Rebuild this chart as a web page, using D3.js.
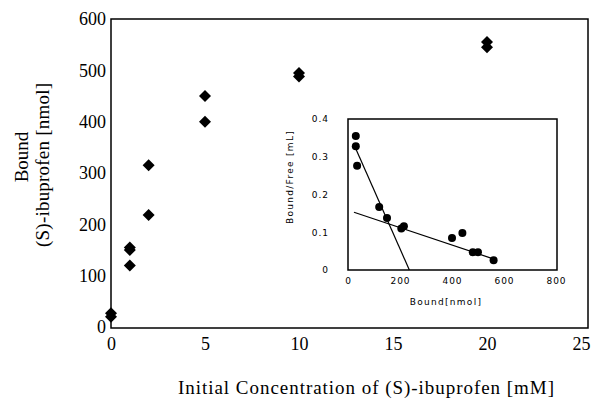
<!DOCTYPE html>
<html>
<head>
<meta charset="utf-8">
<script src="https://cdn.jsdelivr.net/npm/d3@7"></script>
<style>
  body { margin: 0; background: #fff; }
  svg { display: block; }
</style>
</head>
<body>
<div id="chart"></div>
<script>
// main plot: bound ibuprofen vs initial concentration
const concentration = [0, 0, 1, 1, 1, 2, 2, 5, 5, 10, 10, 20, 20];
const bound = [20, 27, 120, 150, 155, 218, 315, 400, 450, 488, 495, 545, 555];
const xTicks = [0, 5, 10, 15, 20, 25];
const yTicks = [0, 100, 200, 300, 400, 500, 600];

// inset: Scatchard plot
const scatBound = [30, 30, 35, 120, 150, 205, 215, 400, 440, 480, 500, 560];
const scatRatio = [0.355, 0.328, 0.276, 0.167, 0.138, 0.11, 0.116, 0.085, 0.098, 0.047, 0.047, 0.026];
const steepLine = [[27, 0.326], [236, 0]];
const shallowLine = [[23, 0.153], [570, 0.027]];
const insetXTicks = [0, 200, 400, 600, 800];
const insetYTicks = [0, 0.1, 0.2, 0.3, 0.4];

const W = 599, H = 400;
const svg = d3.select("#chart").append("svg")
    .attr("width", W)
    .attr("height", H);

const x = d3.scaleLinear().domain([0, 25]).range([111, 581]);
const y = d3.scaleLinear().domain([0, 600]).range([327, 19]);

const serif = "'Liberation Serif', 'DejaVu Serif', serif";
const sans = "'DejaVu Sans', 'Liberation Sans', sans-serif";

// frame
svg.append("rect")
    .attr("x", 111).attr("y", 19)
    .attr("width", 477).attr("height", 309)
    .attr("fill", "none")
    .attr("stroke", "#000")
    .attr("stroke-width", 1.5);

const yAxis = svg.append("g")
    .attr("transform", "translate(111,0)")
    .call(d3.axisLeft(y).tickValues(yTicks).tickSize(0).tickPadding(5));
yAxis.select(".domain").remove();
yAxis.selectAll("text")
    .attr("font-family", serif)
    .attr("font-size", 18)
    .attr("fill", "#000");

const xAxis = svg.append("g")
    .attr("transform", "translate(0,328)")
    .call(d3.axisBottom(x).tickValues(xTicks).tickSize(0).tickPadding(9));
xAxis.select(".domain").remove();
xAxis.selectAll("text")
    .attr("font-family", serif)
    .attr("font-size", 18)
    .attr("fill", "#000");

// axis titles
svg.append("text")
    .attr("transform", "translate(28,157) rotate(-90)")
    .attr("text-anchor", "middle")
    .attr("font-family", serif)
    .attr("font-size", 19)
    .text("Bound");
svg.append("text")
    .attr("transform", "translate(49,165) rotate(-90)")
    .attr("text-anchor", "middle")
    .attr("font-family", serif)
    .attr("font-size", 19)
    .attr("textLength", 164)
    .text("(S)-ibuprofen [nmol]");
svg.append("text")
    .attr("x", 366).attr("y", 394)
    .attr("text-anchor", "middle")
    .attr("font-family", serif)
    .attr("font-size", 19)
    .attr("textLength", 376)
    .text("Initial Concentration of (S)-ibuprofen [mM]");

// main markers (diamonds)
const diamond = d3.symbol().type(d3.symbolSquare).size(72);
svg.append("g").selectAll("path")
    .data(concentration)
    .join("path")
    .attr("d", diamond)
    .attr("transform", (d, i) => `translate(${x(d)},${y(bound[i])}) rotate(45)`)
    .attr("fill", "#000");

// inset
const ix = d3.scaleLinear().domain([0, 800]).range([348, 556]);
const iy = d3.scaleLinear().domain([0, 0.4]).range([270, 119]);

svg.append("rect")
    .attr("x", 348).attr("y", 119)
    .attr("width", 209).attr("height", 151)
    .attr("fill", "#fff")
    .attr("stroke", "#000")
    .attr("stroke-width", 1.5);

const iyAxis = svg.append("g")
    .attr("transform", "translate(348,0)")
    .call(d3.axisLeft(iy).tickValues(insetYTicks).tickSize(0).tickPadding(19)
        .tickFormat(d => d === 0 ? "0" : d3.format(".1f")(d)));
iyAxis.select(".domain").remove();
iyAxis.selectAll("text")
    .attr("font-family", sans)
    .attr("font-size", 9)
    .attr("letter-spacing", 1)
    .attr("fill", "#000");

const ixAxis = svg.append("g")
    .attr("transform", "translate(0,270)")
    .call(d3.axisBottom(ix).tickValues(insetXTicks).tickSize(0).tickPadding(8));
ixAxis.select(".domain").remove();
ixAxis.selectAll("text")
    .attr("font-family", sans)
    .attr("font-size", 9)
    .attr("letter-spacing", 1)
    .attr("fill", "#000");

svg.append("text")
    .attr("x", 446).attr("y", 305)
    .attr("text-anchor", "middle")
    .attr("font-family", sans)
    .attr("font-size", 9)
    .attr("letter-spacing", 1.3)
    .text("Bound[nmol]");
svg.append("text")
    .attr("transform", "translate(293,177) rotate(-90)")
    .attr("text-anchor", "middle")
    .attr("font-family", sans)
    .attr("font-size", 9)
    .attr("letter-spacing", 1.3)
    .text("Bound/Free [mL]");

const line = d3.line().x(d => ix(d[0])).y(d => iy(d[1]));
[steepLine, shallowLine].forEach(seg => {
    svg.append("path")
        .attr("d", line(seg))
        .attr("fill", "none")
        .attr("stroke", "#000")
        .attr("stroke-width", 1.2);
});

svg.append("g").selectAll("circle")
    .data(scatBound)
    .join("circle")
    .attr("cx", d => ix(d))
    .attr("cy", (d, i) => iy(scatRatio[i]))
    .attr("r", 4)
    .attr("fill", "#000");
</script>
</body>
</html>
